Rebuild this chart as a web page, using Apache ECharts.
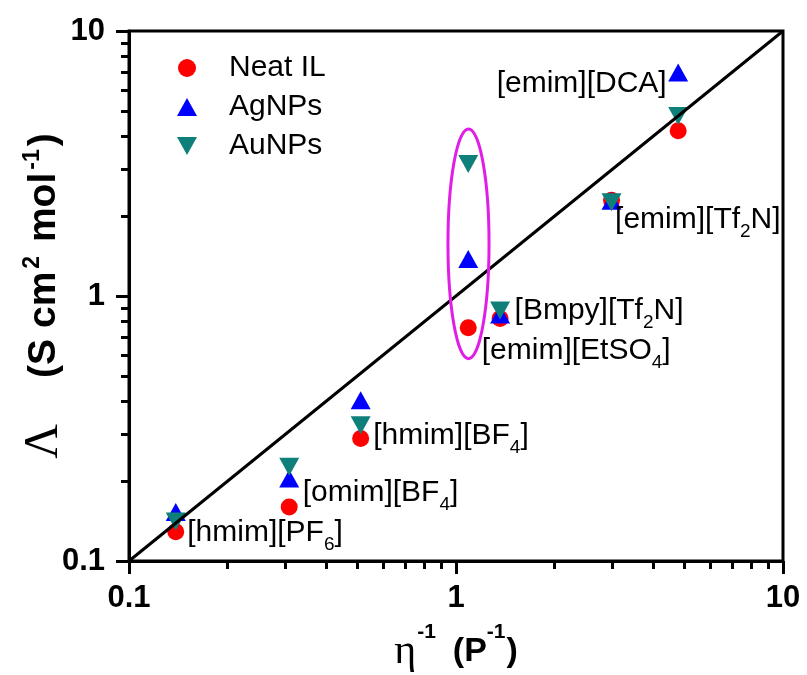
<!DOCTYPE html>
<html>
<head>
<meta charset="utf-8">
<script src="https://cdn.jsdelivr.net/npm/echarts@6/dist/echarts.min.js"></script>
<style>
  html, body { margin: 0; padding: 0; background: #fff; }
  #chart { width: 807px; height: 675px; }
</style>
</head>
<body>
<div id="chart"></div>
<script>
// Walden plot: molar conductivity vs. fluidity for neat ionic liquids and NP dispersions
const compounds = [
  '[hmim][PF{s|6}]',
  '[omim][BF{s|4}]',
  '[hmim][BF{s|4}]',
  '[emim][EtSO{s|4}]',
  '[Bmpy][Tf{s|2}N]',
  '[emim][Tf{s|2}N]',
  '[emim][DCA]'
];
const fluidity = [0.139, 0.309, 0.511, 1.09, 1.364, 2.99, 4.78];   // η^-1 (P^-1)
const neatIL   = [0.129, 0.160, 0.290, 0.759, 0.823, 2.30, 4.20];  // Λ (S cm² mol^-1)
const agNPs    = [0.153, 0.205, 0.404, 1.38, 0.852, 2.29, 6.97];
const auNPs    = [0.141, 0.227, 0.325, 3.15, 0.881, 2.26, 4.78];
const seriesNames = ['Neat IL', 'AgNPs', 'AuNPs'];

// ideal Walden line (slope 1 through the origin of the log-log plot)
const waldenX = [0.1, 10];
const waldenY = [0.1, 10];

// axis ticks
const majorTicks = [0.1, 1, 10];
const minorTicks = [0.2, 0.3, 0.4, 0.5, 0.6, 0.7, 0.8, 0.9, 2, 3, 4, 5, 6, 7, 8, 9];

// highlighted [emim][EtSO4] group
const groupBox = { xMin: 0.945, xMax: 1.262, yMin: 0.58, yMax: 4.27 };

const FONT = 'Liberation Sans, Arial, sans-serif';
const SERIF = 'Liberation Serif, DejaVu Serif, serif';
const colors = ['#ff0000', '#0000ff', '#0f7f7a'];
const DOWN_TRIANGLE = 'path://M0,0L20,0L10,18Z';

// label placement for each compound, relative to its neat IL point
const labelPlacement = [
  { position: 'right', offset: [-2, 1] },
  { position: 'right', offset: [0, -14] },
  { position: 'right', offset: [-1, -3] },
  { position: 'right', offset: [0, 23] },
  { position: 'right', offset: [1, -8] },
  { position: 'right', offset: [-10, 20] },
  { position: 'left',  offset: [2, -47] }
];

const pairs = (ys) => fluidity.map((x, i) => [x, ys[i]]);

const neatData = fluidity.map((x, i) => ({
  value: [x, neatIL[i]],
  label: {
    show: true,
    position: labelPlacement[i].position,
    offset: labelPlacement[i].offset,
    formatter: compounds[i]
  }
}));

const chart = echarts.init(document.getElementById('chart'), null, { renderer: 'canvas' });

const tickLabel = {
  fontSize: 31,
  fontWeight: 'bold',
  color: '#000',
  fontFamily: FONT,
  formatter: (v) => String(+(+v).toPrecision(3))
};

function logAxis(extra) {
  return Object.assign({
    type: 'log',
    logBase: 10,
    min: 0.1,
    max: 10,
    gridIndex: 0,
    splitLine: { show: false },
    minorTick: { show: false },
    minorSplitLine: { show: false }
  }, extra);
}

chart.setOption({
  animation: false,
  backgroundColor: '#fff',
  textStyle: { fontFamily: FONT },
  grid: {
    left: 129, right: 24, top: 31, bottom: 114,
    show: true, borderColor: '#000', borderWidth: 3,
    containLabel: false,
    outerBoundsMode: 'none'
  },
  legend: {
    data: [
      { name: seriesNames[0], icon: 'circle' },
      { name: seriesNames[1], icon: 'triangle' },
      { name: seriesNames[2], icon: DOWN_TRIANGLE }
    ],
    orient: 'vertical',
    left: 172,
    top: 48,
    itemWidth: 20,
    itemHeight: 18,
    itemGap: 9,
    textStyle: { fontSize: 30, color: '#000', fontFamily: FONT, lineHeight: 29, padding: [0, 0, 0, 27] }
  },
  xAxis: [
    logAxis({
      position: 'bottom',
      axisLine: { show: true, onZero: false, lineStyle: { color: '#000', width: 3 } },
      axisTick: { show: true, inside: false, length: 13, customValues: majorTicks, lineStyle: { color: '#000', width: 3 } },
      axisLabel: Object.assign({ margin: 22, customValues: majorTicks }, tickLabel),
      name: '{eta|η}{sup1|-1}{b|(P}{sup|-1}{b|)}',
      nameLocation: 'middle',
      nameGap: 72,
      nameMoveOverlap: false,
      nameTextStyle: {
        fontSize: 34, fontWeight: 'bold', color: '#000', fontFamily: FONT, lineHeight: 38,
        rich: {
          eta: { fontFamily: SERIF, fontSize: 42, fontWeight: 'normal', lineHeight: 38, color: '#000' },
          b: { fontSize: 34, fontWeight: 'bold', lineHeight: 38, color: '#000', fontFamily: FONT },
          sup1: { fontSize: 21, fontWeight: 'bold', lineHeight: 38, padding: [0, 17, 40, 1], color: '#000', fontFamily: FONT },
          sup: { fontSize: 21, fontWeight: 'bold', lineHeight: 38, padding: [0, 1, 40, 0], color: '#000', fontFamily: FONT }
        }
      }
    }),
    logAxis({
      position: 'bottom',
      axisLine: { show: false, onZero: false },
      axisTick: { show: true, inside: false, length: 8, customValues: minorTicks, lineStyle: { color: '#000', width: 3 } },
      axisLabel: { show: false }
    })
  ],
  yAxis: [
    logAxis({
      position: 'left',
      axisLine: { show: true, onZero: false, lineStyle: { color: '#000', width: 3 } },
      axisTick: { show: true, inside: false, length: 13, customValues: majorTicks, lineStyle: { color: '#000', width: 3 } },
      axisLabel: Object.assign({ margin: 24, customValues: majorTicks }, tickLabel),
      name: '{L|Λ}{b|(S cm}{sup|2}{b| mol}{sup|-1}{b|)}',
      nameLocation: 'middle',
      nameGap: 64,
      nameMoveOverlap: false,
      nameTextStyle: {
        fontSize: 39, fontWeight: 'bold', color: '#000', fontFamily: FONT, lineHeight: 42,
        rich: {
          L: { fontFamily: SERIF, fontSize: 48, fontWeight: 'normal', lineHeight: 42, padding: [0, 46, 0, 0], color: '#000' },
          b: { fontSize: 39, fontWeight: 'bold', lineHeight: 42, color: '#000', fontFamily: FONT },
          sup: { fontSize: 23, fontWeight: 'bold', lineHeight: 42, padding: [0, 3, 22, 3], color: '#000', fontFamily: FONT }
        }
      }
    }),
    logAxis({
      position: 'left',
      axisLine: { show: false, onZero: false },
      axisTick: { show: true, inside: false, length: 8, customValues: minorTicks, lineStyle: { color: '#000', width: 3 } },
      axisLabel: { show: false }
    })
  ],
  series: [
    {
      name: seriesNames[0],
      type: 'scatter',
      xAxisIndex: 0, yAxisIndex: 0,
      symbol: 'circle',
      symbolSize: 17,
      itemStyle: { color: colors[0], opacity: 1 },
      label: {
        color: '#000', fontSize: 30, fontFamily: FONT, lineHeight: 30, distance: 5,
        rich: { s: { fontSize: 19, lineHeight: 30, padding: [24, 0, 0, 0], color: '#000', fontFamily: FONT } }
      },
      data: neatData
    },
    {
      name: seriesNames[1],
      type: 'scatter',
      xAxisIndex: 0, yAxisIndex: 0,
      symbol: 'triangle',
      symbolSize: [20, 18],
      itemStyle: { color: colors[1], opacity: 1 },
      data: pairs(agNPs)
    },
    {
      name: seriesNames[2],
      type: 'scatter',
      xAxisIndex: 0, yAxisIndex: 0,
      symbol: DOWN_TRIANGLE,
      symbolSize: [20, 18],
      itemStyle: { color: colors[2], opacity: 1 },
      data: pairs(auNPs)
    },
    {
      name: 'Walden line',
      type: 'line',
      xAxisIndex: 0, yAxisIndex: 0,
      showSymbol: false,
      symbol: 'none',
      z: 5,
      lineStyle: { color: '#000', width: 3 },
      data: waldenX.map((x, i) => [x, waldenY[i]])
    }
  ]
});

// ellipse around the [emim][EtSO4] group
const p0 = chart.convertToPixel({ seriesIndex: 0 }, [groupBox.xMin, groupBox.yMin]);
const p1 = chart.convertToPixel({ seriesIndex: 0 }, [groupBox.xMax, groupBox.yMax]);
chart.setOption({
  graphic: [{
    type: 'ellipse',
    z: 10,
    shape: {
      cx: (p0[0] + p1[0]) / 2,
      cy: (p0[1] + p1[1]) / 2,
      rx: Math.abs(p1[0] - p0[0]) / 2,
      ry: Math.abs(p1[1] - p0[1]) / 2
    },
    style: { fill: 'none', stroke: '#e01ee6', lineWidth: 3 }
  }]
});
</script>
</body>
</html>
